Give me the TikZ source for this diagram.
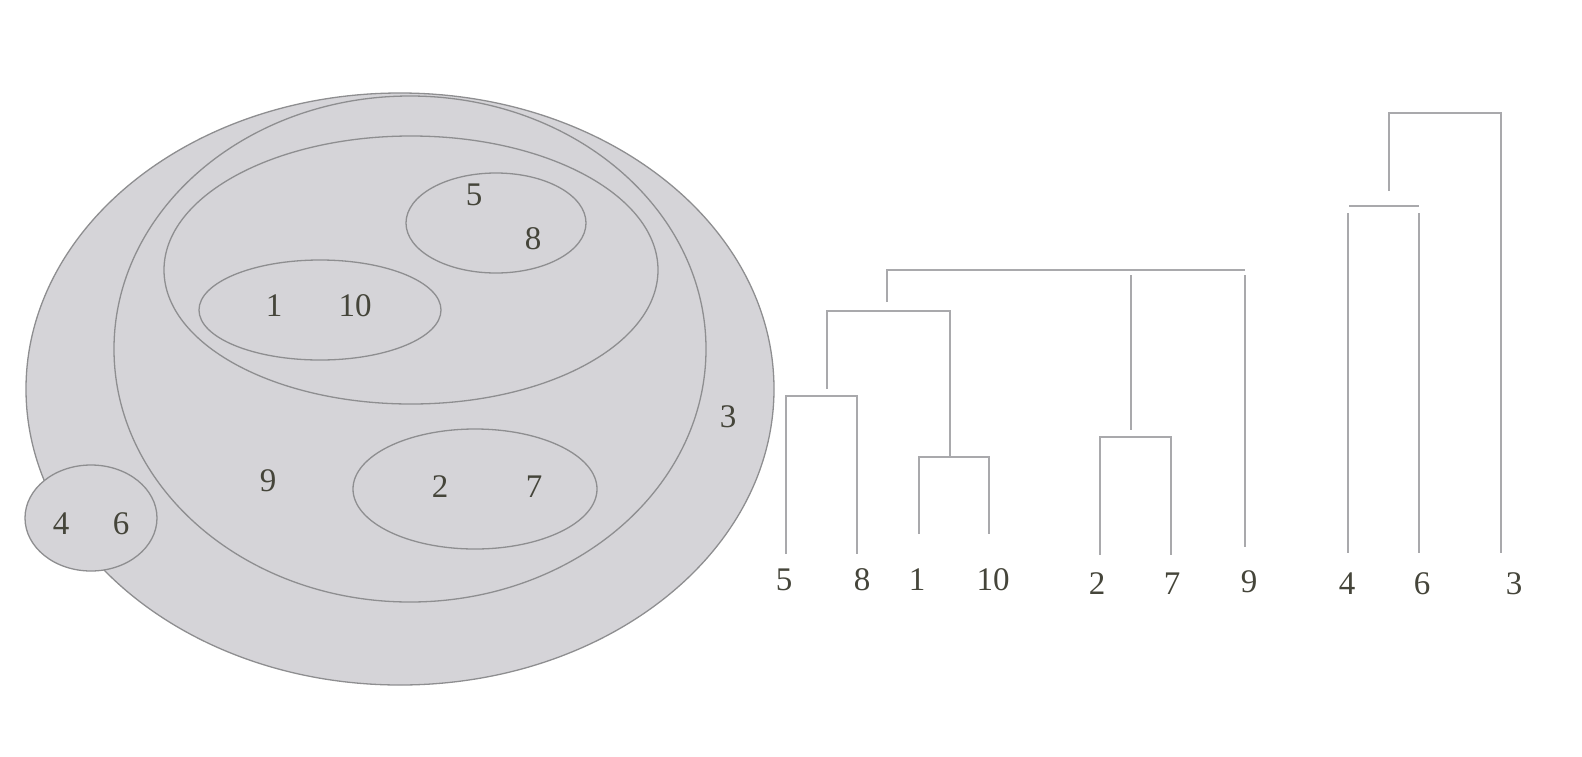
\documentclass[tikz,border=0pt]{standalone}
\usepackage{fontspec}
\setmainfont{Liberation Serif}
\usetikzlibrary{calc}

\definecolor{setfill}{HTML}{D5D4D8}
\definecolor{setline}{HTML}{8E8E90}
\definecolor{linkcol}{HTML}{A9A9AC}
\definecolor{numcol}{HTML}{45453A}

\begin{document}
\begin{tikzpicture}[x=1pt,y=-1pt,
    set/.style={draw=setline,fill=setfill,line width=1.3pt},
    num/.style={text=numcol,inner sep=0pt,font=\fontsize{33}{38}\selectfont},
    link/.style={draw=linkcol,line width=2pt}]
  \useasboundingbox (0,0) rectangle (1582,756);

  % nested sets
  \draw[set] (400,389) ellipse [x radius=374,y radius=296];
  \draw[set] (410,349) ellipse [x radius=296,y radius=253];
  \draw[set] (411,270) ellipse [x radius=247,y radius=134];
  \draw[set] (496,223) ellipse [x radius=90,y radius=50];
  \draw[set] (320,310) ellipse [x radius=121,y radius=50];
  \draw[set] (475,489) ellipse [x radius=122,y radius=60];
  \draw[set] (91,518) ellipse [x radius=66,y radius=53];

  \node[num] (v5) at (474,195) {5};
  \node[num] (v8) at (533,239) {8};
  \node[num] (v1) at (274,306) {1};
  \node[num] (v10) at (355,306) {10};
  \node[num] (v3) at (728,417) {3};
  \node[num] (v9) at (268,481) {9};
  \node[num] (v2) at (440,487) {2};
  \node[num] (v7) at (534,487) {7};
  \node[num] (v4) at (61,524) {4};
  \node[num] (v6) at (121,524) {6};

  % dendrogram leaves
  \node[num] (d5) at (784,580) {5};
  \node[num] (d8) at (862,580) {8};
  \node[num] (d1) at (917,580) {1};
  \node[num] (d10) at (993,580) {10};
  \node[num] (d2) at (1097,584) {2};
  \node[num] (d7) at (1172,584) {7};
  \node[num] (d9) at (1249,582) {9};
  \node[num] (d4) at (1347,584) {4};
  \node[num] (d6) at (1422,584) {6};
  \node[num] (d3) at (1514,584) {3};

  \coordinate (f5) at (786,554);
  \coordinate (f8) at (857,554);
  \coordinate (f1) at (919,534);
  \coordinate (f10) at (989,534);
  \coordinate (f2) at (1100,555);
  \coordinate (f7) at (1171,555);
  \coordinate (f9) at (1245,547);
  \coordinate (f4) at (1348,553);
  \coordinate (f6) at (1419,553);
  \coordinate (f3) at (1501,553);

  % merges
  \coordinate (j58) at (827,396);
  \coordinate (j110) at (950,457);
  \coordinate (j27) at (1131,437);
  \coordinate (j46) at (1389,206);
  \coordinate (jA) at (887,311);
  \coordinate (jB) at (1131,270);
  \coordinate (jC) at (1501,113);

  \draw[link] (f5) |- (j58) -| (f8);
  \draw[link] (f1) |- (j110) -| (f10);
  \draw[link] (f2) |- (j27) -| (f7);
  \draw[link] ($(j58)+(0,-7)$) |- (jA) -| (j110);
  \draw[link] ($(jA)+(0,-9)$) -- (jA |- jB) -- (f9 |- jB);
  \draw[link] ($(jB)+(0,5)$) -- ($(j27)+(0,-7)$);
  \draw[link] ($(f9 |- jB)+(0,5)$) -- (f9);
  \draw[link] (1349,206) -- (1419,206);
  \draw[link] ($(f4 |- j46)+(0,7)$) -- (f4);
  \draw[link] ($(f6 |- j46)+(0,7)$) -- (f6);
  \draw[link] ($(j46)+(0,-15)$) |- (jC) -- (f3);
\end{tikzpicture}
\end{document}
